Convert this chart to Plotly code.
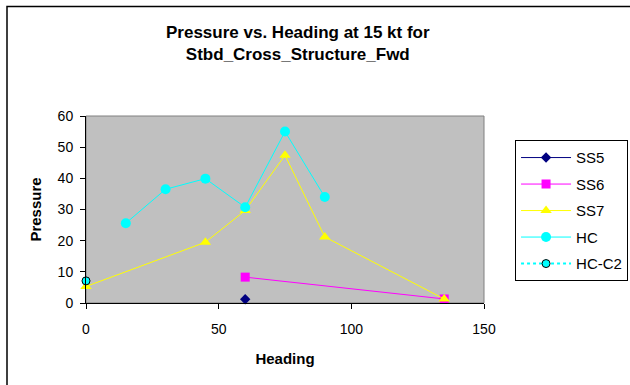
import plotly.graph_objects as go

# Data
ss5_x = [60]
ss5_y = [1.2]
ss6_x = [60, 135]
ss6_y = [8.3, 1.3]
ss7_x = [0, 45, 60, 75, 90, 135]
ss7_y = [5.3, 19.5, 29.7, 47.4, 21.2, 1.3]
hc_x = [15, 30, 45, 60, 75, 90]
hc_y = [25.6, 36.5, 39.9, 30.7, 55.0, 34.0]
hcc2_x = [0]
hcc2_y = [7.1]

FONT = "Liberation Sans, Arial, sans-serif"

fig = go.Figure()
fig.add_trace(go.Scatter(x=ss5_x, y=ss5_y, name="SS5", mode="lines+markers", legendgroup="a",
                         line=dict(color="#000080", width=1),
                         marker=dict(symbol="diamond", size=8, color="#000080"), cliponaxis=False))
fig.add_trace(go.Scatter(x=ss6_x, y=ss6_y, name="SS6", mode="lines+markers", legendgroup="b",
                         line=dict(color="#FF00FF", width=1),
                         marker=dict(symbol="square", size=9, color="#FF00FF"), cliponaxis=False))
fig.add_trace(go.Scatter(x=ss7_x, y=ss7_y, name="SS7", mode="lines+markers", legendgroup="c",
                         line=dict(color="#FFFF00", width=1),
                         marker=dict(symbol="triangle-up", size=10, color="#FFFF00"), cliponaxis=False))
fig.add_trace(go.Scatter(x=hc_x, y=hc_y, name="HC", mode="lines+markers", legendgroup="d",
                         line=dict(color="#00FFFF", width=1),
                         marker=dict(symbol="circle", size=10, color="#00FFFF"), cliponaxis=False))
fig.add_trace(go.Scatter(x=hcc2_x, y=hcc2_y, name="HC-C2", mode="lines+markers", legendgroup="e",
                         line=dict(color="#00FFFF", width=2, dash="dot"),
                         marker=dict(symbol="circle", size=8, color="#00FFFF",
                                     line=dict(color="black", width=1)), cliponaxis=False))

axis_common = dict(showgrid=False, zeroline=False, showline=True, linecolor="black", linewidth=1,
                   ticks="outside", ticklen=5, tickcolor="black", tickwidth=1,
                   tickfont=dict(family=FONT, size=14, color="black"))

fig.update_layout(
    width=630, height=385,
    margin=dict(l=86, r=146, t=116, b=82, autoexpand=False),
    paper_bgcolor="white", plot_bgcolor="#C0C0C0",
    font=dict(family=FONT, color="black"),
    xaxis=dict(range=[0, 150], dtick=50, tick0=0, ticklabelstandoff=8,
               title=dict(text="<b>Heading</b>", font=dict(family=FONT, size=15), standoff=17),
               **axis_common),
    yaxis=dict(range=[0, 60], dtick=10, tick0=0, ticklabelstandoff=4,
               title=dict(text="<b>Pressure</b>", font=dict(family=FONT, size=15), standoff=12),
               **axis_common),
    legend=dict(x=1.078, y=0.87, xanchor="left", yanchor="top",
                bgcolor="white", bordercolor="black", borderwidth=1,
                font=dict(family=FONT, size=15, color="black"),
                tracegroupgap=4, traceorder="grouped", itemwidth=50),
    showlegend=True,
)

fig.add_annotation(text="<b>Pressure vs. Heading at 15 kt for<br>Stbd_Cross_Structure_Fwd</b>",
                   xref="paper", yref="paper", x=0.533, y=1.51, xanchor="center", yanchor="top",
                   showarrow=False, font=dict(family=FONT, size=17, color="black"))

# plot-area border (gray)
fig.add_shape(type="rect", xref="x domain", yref="y domain", x0=0, x1=1, y0=0, y1=1,
              line=dict(color="#808080", width=1), layer="below")
# outer chart border
fig.add_shape(type="rect", xref="paper", yref="paper",
              x0=(7 - 86) / 398, x1=2.0, y0=-2.0, y1=1 + (116 - 6.5) / 187,
              line=dict(color="black", width=1.5), fillcolor="rgba(0,0,0,0)")

fig.write_html("out.html")
